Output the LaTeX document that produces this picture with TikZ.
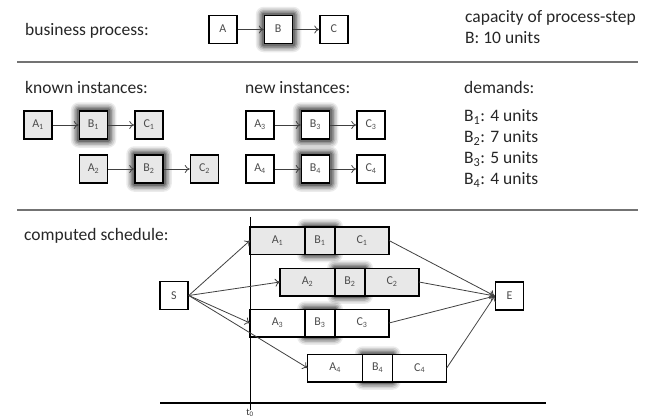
\documentclass[tikz,border=0pt]{standalone}
\usepackage{fontspec}
\setmainfont{Carlito}
\usetikzlibrary{positioning,arrows.meta}
\pgfdeclarelayer{bg}
\pgfsetlayers{bg,main}

% soft dark halo behind a process step
\newcommand{\glow}[1]{\begin{pgfonlayer}{bg}
\foreach \gr/\go in {8/.08,6.5/.1,5/.14,3.5/.18,2/.25}
  \fill[black,opacity=\go,rounded corners=\gr pt] ([shift={(-\gr pt,-\gr pt)}]#1.south west) rectangle ([shift={(\gr pt,\gr pt)}]#1.north east);
\end{pgfonlayer}}
% A -> B -> C with index #1, fill #2, A at (#3,#4)
\newcommand{\chain}[4]{\node[box=#2] (a#1) at (#3,#4) {A\textsubscript{#1}};
\node[box=#2,right=26pt of a#1] (b#1) {B\textsubscript{#1}};
\node[box=#2,right=26pt of b#1] (c#1) {C\textsubscript{#1}};
\draw[flow] (a#1) -- (b#1);
\draw[flow] (b#1) -- (c#1);
\glow{b#1}}
% one scheduled instance, left end at (#3,#4)
\newcommand{\job}[4]{\node[seg={55pt}{#2},anchor=west] (sa#1) at (#3,#4) {A\textsubscript{#1}};
\node[seg={30pt}{#2},right=0pt of sa#1] (sb#1) {B\textsubscript{#1}};
\node[seg={54pt}{#2},right=0pt of sb#1] (sc#1) {C\textsubscript{#1}};
\glow{sb#1}
\draw[flow] (s.east) -- (sa#1.west);
\draw[flow] (sc#1.east) -- (e.west);}

\tikzset{
  lbl/.style={anchor=west, inner sep=0pt, text=black!85, font=\fontsize{17.5}{21}\selectfont},
  box/.style={draw, line width=1.5pt, minimum size=28pt, inner sep=0pt, fill=#1, text=black!70, font=\fontsize{12}{14}\selectfont},
  seg/.style 2 args={draw, line width=1.5pt, minimum width=#1, minimum height=27.5pt, inner sep=0pt, outer sep=0pt, fill=#2, text=black!70, font=\fontsize{12}{14}\selectfont},
  flow/.style={-{To[length=5pt,width=8pt]}, line width=.8pt, black!75},
  rule/.style={line width=1.5pt, black!55}
}

\begin{document}
\begin{tikzpicture}[x=1pt,y=-1pt]
  \useasboundingbox (0,0) rectangle (647,418);
  % business process
  \node[lbl] (bp) at (25,31) {business process:};
  \chain{}{white}{223}{29.5}
  \node[lbl,anchor=base west] (cap) at (465,22) {capacity of process-step};
  \node[lbl,anchor=base west] (capb) at (465,43) {B: 10 units};
  \draw[rule] (17,62) -- (638,62);
  % instances
  \node[lbl,anchor=base west] (kn) at (25,93) {known instances:};
  \node[lbl,anchor=base west] (nw) at (245,93) {new instances:};
  \node[lbl,anchor=base west] (dm) at (464,93) {demands:};
  \chain{1}{gray!18}{38}{125}
  \chain{2}{gray!18}{93.5}{169}
  \chain{3}{white}{260}{125}
  \chain{4}{white}{260}{169}
  \foreach \i/\n in {1/4,2/7,3/5,4/4}
    \node[lbl,anchor=base west] (d\i) at (464,{100.5+21*\i}) {B\textsubscript{\i}: {\n} units};
  \draw[rule] (17,210) -- (638,210);
  % schedule
  \node[lbl] (cs) at (24,236) {computed schedule:};
  \draw[line width=1pt] (250,217) -- (250,410);
  \draw[line width=1.2pt] (160,403) -- (546,403);
  \node[inner sep=0pt,text=black!80,font=\fontsize{10}{12}\selectfont] (t0) at (250,413) {t\textsubscript{0}};
  \node[box=white] (s) at (174,295.5) {S};
  \node[box=white] (e) at (509.5,296) {E};
  \job{1}{gray!18}{250}{240.5}
  \job{2}{gray!18}{280}{282}
  \job{3}{white}{250}{323}
  \job{4}{white}{307.7}{368}
\end{tikzpicture}
\end{document}
